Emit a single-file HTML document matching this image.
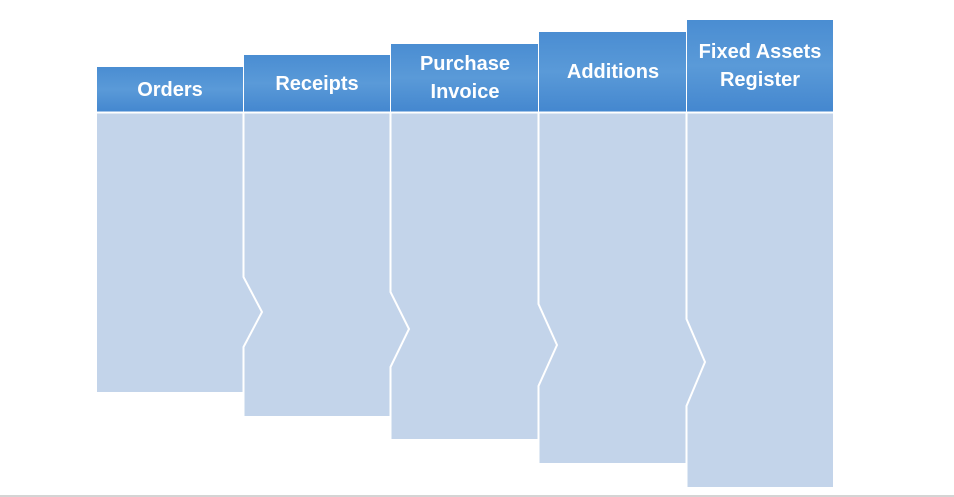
<!DOCTYPE html>
<html><head><meta charset="utf-8"><style>
html,body{margin:0;padding:0;background:#fff;}
svg{display:block}
text{font-family:"Liberation Sans",sans-serif;font-size:20px;font-weight:bold;fill:#fff;text-anchor:middle;}
</style></head><body>
<svg width="954" height="497" viewBox="0 0 954 497" xmlns="http://www.w3.org/2000/svg">
<defs>
<linearGradient id="h" x1="0" y1="0" x2="0" y2="1">
<stop offset="0" stop-color="#4a8dd2"/><stop offset="0.5" stop-color="#5a9ad8"/><stop offset="1" stop-color="#4487cf"/>
</linearGradient>
</defs>
<g fill="#c3d4ea">
<rect x="97" y="112" width="147" height="280"/>
<rect x="244" y="112" width="147" height="304"/>
<rect x="391" y="112" width="148" height="327"/>
<rect x="539" y="112" width="148" height="351"/>
<rect x="687" y="112" width="146" height="375"/>
</g>
<g fill="url(#h)">
<rect x="97" y="67" width="146" height="45"/>
<rect x="244" y="55" width="146" height="57"/>
<rect x="391" y="44" width="147" height="68"/>
<rect x="539" y="32" width="147" height="80"/>
<rect x="687" y="20" width="146" height="92"/>
</g>
<g stroke="#fff" stroke-width="2" fill="none">
<line x1="97" y1="112.5" x2="833" y2="112.5"/>
<polyline points="243.5,112 243.5,277 262,312 243.5,347 243.5,420"/>
<polyline points="390.5,112 390.5,292 409,329 390.5,367 390.5,440"/>
<polyline points="538.5,112 538.5,304 557,345 538.5,386 538.5,465"/>
<polyline points="686.5,112 686.5,319 705,362 686.5,406 686.5,490"/>
</g>
<line x1="0" y1="496" x2="954" y2="496" stroke="#aaa" stroke-width="1"/>
<text x="170" y="96">Orders</text>
<text x="317" y="90">Receipts</text>
<text x="465" y="70">Purchase</text>
<text x="465" y="98">Invoice</text>
<text x="613" y="78">Additions</text>
<text x="760" y="58">Fixed Assets</text>
<text x="760" y="86">Register</text>
</svg>
</body></html>
